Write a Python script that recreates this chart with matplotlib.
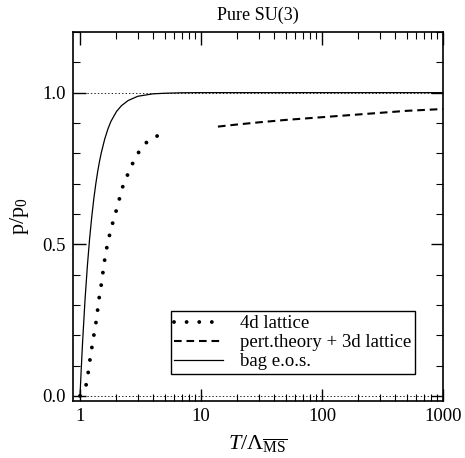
import matplotlib
matplotlib.use("Agg")
import matplotlib.pyplot as plt
from matplotlib.ticker import FixedLocator, NullFormatter, MultipleLocator

plt.rcParams['font.family'] = ['Liberation Serif', 'DejaVu Serif']
plt.rcParams['mathtext.fontset'] = 'custom'
plt.rcParams['mathtext.rm'] = 'Liberation Serif'
plt.rcParams['mathtext.it'] = 'Liberation Serif:italic'
plt.rcParams['lines.scale_dashes'] = False

# 4d lattice
T_lat = [1.0, 1.136, 1.171, 1.21, 1.256, 1.305, 1.356, 1.40, 1.444, 1.50, 1.55, 1.60,
         1.67, 1.76, 1.87, 1.995, 2.13, 2.27, 2.49, 2.74, 3.09, 3.60, 4.43]
p_lat = [0.0, 0.040, 0.080, 0.121, 0.162, 0.203, 0.243, 0.285, 0.327, 0.368, 0.410, 0.450,
         0.492, 0.533, 0.573, 0.612, 0.654, 0.694, 0.732, 0.769, 0.807, 0.839, 0.859]

# pert.theory + 3d lattice
T_pert = [13.8, 20, 30, 50, 100, 200, 500, 1000]
p_pert = [0.888, 0.895, 0.902, 0.910, 0.919, 0.928, 0.940, 0.946]

# bag e.o.s.
T_bag = [1.0, 1.02, 1.05, 1.1, 1.15, 1.2, 1.25, 1.3, 1.35, 1.4, 1.45, 1.5, 1.6, 1.7,
         1.8, 2.0, 2.2, 2.5, 3.0, 4.0, 5.0, 7.0, 10.0, 1000.0]
p_bag = [0.0, 0.076, 0.177, 0.317, 0.428, 0.518, 0.590, 0.650, 0.699, 0.740, 0.774,
         0.802, 0.847, 0.880, 0.905, 0.9375, 0.957, 0.974, 0.988, 0.996, 0.998, 0.9996,
         1.0, 1.0]

fig = plt.figure(figsize=(4.65, 4.58), dpi=100)
ax = fig.add_axes([73/465, 1-401/458, (443-73)/465, (401-32)/458])

ax.axhline(0.0, color='black', lw=0.6, ls=(0, (1, 1.5)))
ax.axhline(1.0, color='black', lw=0.6, ls=(0, (1, 1.5)))

ax.plot(T_lat, p_lat, color='black', lw=2.8, ls=(0, (0.01, 9.07)),
        dash_capstyle='round', label='4d lattice')
ax.plot(T_pert, p_pert, color='black', lw=1.5, ls=(0, (5.5, 3.5)),
        label='pert.theory + 3d lattice')
ax.plot(T_bag, p_bag, color='black', lw=0.9, label='bag e.o.s.')

ax.set_xscale('log')
ax.set_xlim(0.875, 1000)
ax.set_ylim(-0.017, 1.2)
ax.set_xticks([1, 10, 100, 1000])
ax.set_xticklabels(['1', '10', '100', '1000'])
ax.xaxis.set_minor_locator(FixedLocator([m * 10**e for e in range(0, 3) for m in range(2, 10)]))
ax.xaxis.set_minor_formatter(NullFormatter())
ax.set_yticks([0.0, 0.5, 1.0])
ax.set_yticklabels(['0.0', '0.5', '1.0'])
ax.yaxis.set_minor_locator(MultipleLocator(0.1))

ax.tick_params(which='both', direction='in', top=True, right=True, labelsize=13.5)
ax.tick_params(which='major', length=9, width=1.0, pad=5)
ax.tick_params(which='minor', length=5, width=0.8)
for s in ax.spines.values():
    s.set_linewidth(1.2)

ax.set_xlabel(r'$T/\Lambda_{\overline{\rm MS}}$', fontsize=16, labelpad=6)
ax.set_ylabel(r'p/p$_0$', fontsize=16, labelpad=8)
ax.set_title('Pure SU(3)', fontsize=13, pad=9)

leg = ax.legend(loc='lower right', bbox_to_anchor=(415/465 - 73/465 + 0.0, 0.0), fontsize=13.5,
                frameon=True, fancybox=False, edgecolor='black', framealpha=1,
                handlelength=2.6, borderpad=0.2, labelspacing=0.1, handletextpad=0.9,
                borderaxespad=0)
leg.get_frame().set_linewidth(1.0)
# place legend box by axes fraction
leg.set_bbox_to_anchor(((415-73)/370, (401-374)/369), transform=ax.transAxes)

fig.savefig('out.png', dpi=100)
